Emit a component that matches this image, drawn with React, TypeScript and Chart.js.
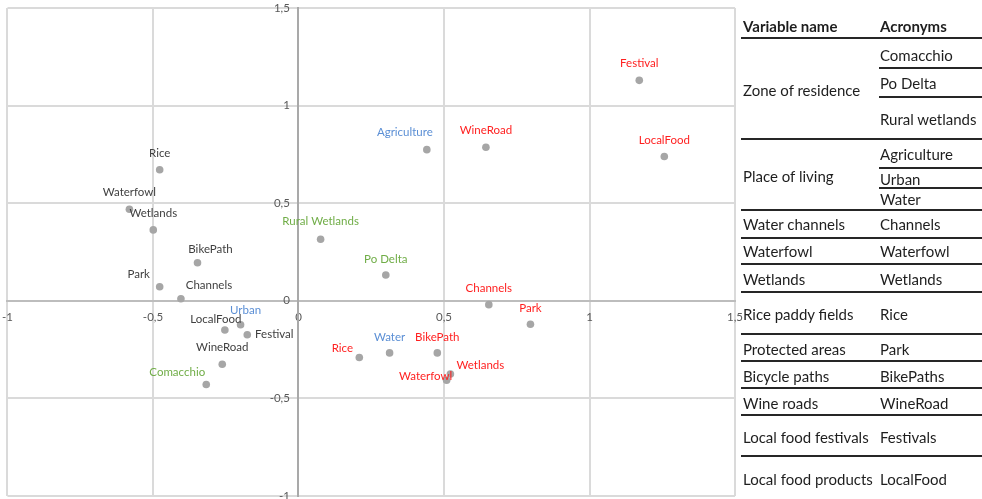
import React, { useEffect, useRef } from 'react';
import { Chart, registerables } from 'chart.js';

Chart.register(...registerables);

// ---- Chart data ----
// Answers grouped by label colour
const darkLabels = ['Rice', 'Waterfowl', 'Wetlands', 'BikePath', 'Park', 'Channels', 'LocalFood', 'Festival', 'WineRoad'];
const darkX = [-0.477, -0.581, -0.499, -0.347, -0.477, -0.404, -0.253, -0.176, -0.262];
const darkY = [0.671, 0.469, 0.363, 0.195, 0.072, 0.010, -0.150, -0.174, -0.325];

const redLabels = ['Festival', 'LocalFood', 'WineRoad', 'Channels', 'Park', 'BikePath', 'Wetlands', 'Waterfowl', 'Rice'];
const redX = [1.171, 1.257, 0.644, 0.654, 0.797, 0.477, 0.522, 0.509, 0.209];
const redY = [1.129, 0.739, 0.786, -0.020, -0.120, -0.267, -0.375, -0.407, -0.291];

const blueLabels = ['Agriculture', 'Urban', 'Water'];
const blueX = [0.441, -0.199, 0.313];
const blueY = [0.774, -0.123, -0.267];

const greenLabels = ['Rural Wetlands', 'Po Delta', 'Comacchio'];
const greenX = [0.076, 0.300, -0.317];
const greenY = [0.315, 0.132, -0.429];

const axisTicks = [-1, -0.5, 0, 0.5, 1, 1.5];

// ---- Label placement (pixel offsets from each point; style only) ----
const darkOffsets = [[0, -16], [0, -17], [0, -17], [13, -13], [-21, -12], [28, -14], [-9, -11], [27, 0], [0, -17]];
const redOffsets = [[0, -17], [0, -16], [0, -17], [0, -16], [0, -16], [0, -16], [30, -9], [-21, -4], [-17, -9]];
const blueOffsets = [[-22, -17], [5, -14], [0, -16]];
const greenOffsets = [[0, -18], [0, -16], [-29, -12]];

// ---- Side table ----
const variableNames = ['Zone of residence', 'Place of living', 'Water channels', 'Waterfowl', 'Wetlands', 'Rice paddy fields', 'Protected areas', 'Bicycle paths', 'Wine roads', 'Local food festivals', 'Local food products'];
const variableRowY = [90, 176, 224, 251, 279, 314, 349, 376, 403, 437, 479];
const acronyms = ['Comacchio', 'Po Delta', 'Rural wetlands', 'Agriculture', 'Urban', 'Water', 'Channels', 'Waterfowl', 'Wetlands', 'Rice', 'Park', 'BikePaths', 'WineRoad', 'Festivals', 'LocalFood'];
const acronymRowY = [55, 83, 119, 154, 179, 199, 224, 251, 279, 314, 349, 376, 403, 437, 479];
const fullRuleY = [38, 139, 210, 238, 264, 292, 334, 361, 388, 415, 456];
const partRuleY = [68, 97, 168, 188];

const fmt = (v: number) => String(v).replace('.', ',');

const labelPlugin = {
  id: 'pointLabels',
  afterDatasetsDraw(chart: any) {
    const ctx = chart.ctx;
    chart.data.datasets.forEach((ds: any, i: number) => {
      const meta = chart.getDatasetMeta(i);
      ctx.save();
      ctx.font = '11.5px Lato';
      ctx.fillStyle = ds.labelColor;
      ctx.textAlign = 'center';
      ctx.textBaseline = 'middle';
      meta.data.forEach((el: any, j: number) => {
        const o = ds.labelOffsets[j];
        ctx.fillText(ds.pointLabels[j], el.x + o[0], el.y + o[1]);
      });
      ctx.restore();
    });
  },
};

const toPoints = (xs: number[], ys: number[]) => xs.map((x, i) => ({ x, y: ys[i] }));

export default function App() {
  const ref = useRef<HTMLCanvasElement | null>(null);

  useEffect(() => {
    if (!ref.current) return;
    const pointStyle = {
      backgroundColor: '#a6a6a6',
      borderColor: '#a6a6a6',
      pointRadius: 3.8,
      borderWidth: 0,
    };
    const chart = new Chart(ref.current, {
      type: 'scatter',
      data: {
        datasets: [
          { data: toPoints(darkX, darkY), pointLabels: darkLabels, labelOffsets: darkOffsets, labelColor: '#404040', ...pointStyle } as any,
          { data: toPoints(redX, redY), pointLabels: redLabels, labelOffsets: redOffsets, labelColor: '#ff1f1f', ...pointStyle } as any,
          { data: toPoints(blueX, blueY), pointLabels: blueLabels, labelOffsets: blueOffsets, labelColor: '#5b8fd5', ...pointStyle } as any,
          { data: toPoints(greenX, greenY), pointLabels: greenLabels, labelOffsets: greenOffsets, labelColor: '#70ad47', ...pointStyle } as any,
        ],
      },
      options: {
        responsive: false,
        maintainAspectRatio: false,
        animation: false,
        layout: { padding: { left: 7, top: 8, right: 13, bottom: 16 } },
        plugins: { legend: { display: false }, tooltip: { enabled: false } },
        scales: {
          x: {
            type: 'linear',
            min: -1,
            max: 1.5,
            position: { y: 0 } as any,
            afterBuildTicks: (s: any) => { s.ticks = axisTicks.map((v) => ({ value: v })); },
            grid: {
              color: (c: any) => (c.tick && c.tick.value === 0 ? '#b4b4b4' : '#dadada'),
              lineWidth: 2,
              drawTicks: false,
            },
            border: { display: true, color: '#bdbdbd', width: 2 },
            ticks: {
              padding: 10,
              color: '#595959',
              font: { family: 'Lato', size: 11.5 },
              callback: (v: any) => fmt(Number(v)),
              maxRotation: 0,
              autoSkip: false,
            },
          },
          y: {
            type: 'linear',
            min: -1,
            max: 1.5,
            position: { x: 0 } as any,
            afterBuildTicks: (s: any) => { s.ticks = axisTicks.map((v) => ({ value: v })); },
            grid: {
              color: (c: any) => (c.tick && c.tick.value === 0 ? '#bdbdbd' : '#dadada'),
              lineWidth: 2,
              drawTicks: false,
            },
            border: { display: true, color: '#a9a9a9', width: 2 },
            ticks: {
              padding: 9,
              color: '#595959',
              font: { family: 'Lato', size: 11.5 },
              // trailing em space keeps the label clear of the centred axis line
              callback: (v: any) => fmt(Number(v)) + '\u2003',
              autoSkip: false,
            },
          },
        },
      },
      plugins: [labelPlugin],
    });
    return () => chart.destroy();
  }, []);

  const textStyle = (x: number, y: number, bold = false): React.CSSProperties => ({
    position: 'absolute',
    left: x,
    top: y - 10,
    height: 20,
    lineHeight: '20px',
    fontSize: 15,
    fontWeight: bold ? 700 : 400,
    color: '#1e1e1e',
    whiteSpace: 'nowrap',
  });

  return (
    <div
      style={{
        position: 'absolute',
        left: 0,
        top: 0,
        width: 982,
        height: 499,
        overflow: 'hidden',
        background: '#ffffff',
        fontFamily: 'Lato, sans-serif',
      }}
    >
      <canvas ref={ref} width={761} height={520} style={{ position: 'absolute', left: -8, top: -8, display: 'block' }} />
      <div style={{ position: 'absolute', left: 0, top: 0, width: 982, height: 499 }}>
        <div style={textStyle(743, 26, true)}>Variable name</div>
        <div style={textStyle(880, 26, true)}>Acronyms</div>
        {variableNames.map((t, i) => (
          <div key={'v' + i} style={textStyle(743, variableRowY[i])}>{t}</div>
        ))}
        {acronyms.map((t, i) => (
          <div key={'a' + i} style={textStyle(880, acronymRowY[i])}>{t}</div>
        ))}
        {fullRuleY.map((y, i) => (
          <div key={'f' + i} style={{ position: 'absolute', left: 741, top: y - 1, width: 241, height: 2, background: '#262626' }} />
        ))}
        {partRuleY.map((y, i) => (
          <div key={'p' + i} style={{ position: 'absolute', left: 879, top: y - 1, width: 103, height: 2, background: '#262626' }} />
        ))}
      </div>
    </div>
  );
}
